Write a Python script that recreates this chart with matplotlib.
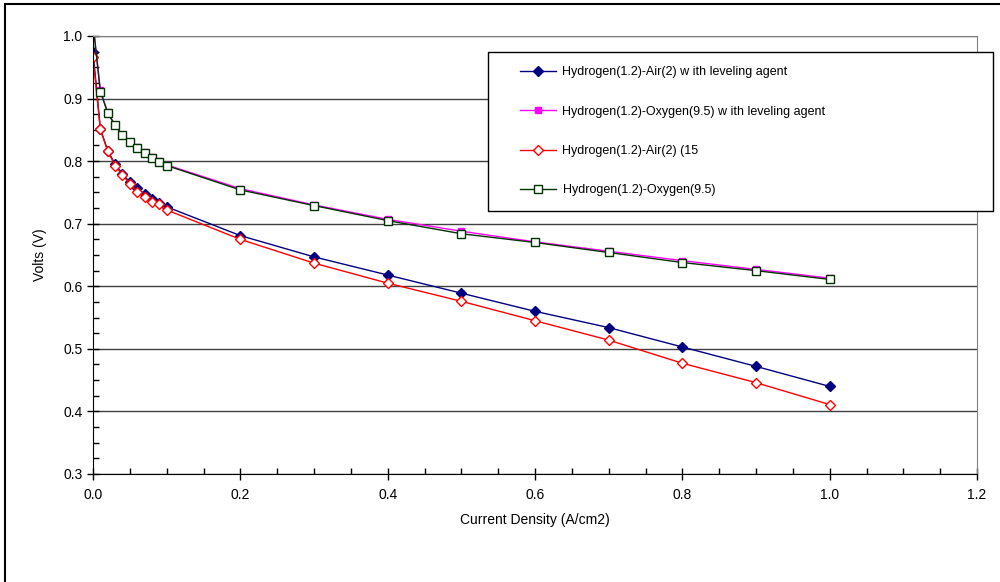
import matplotlib.pyplot as plt
from matplotlib.patches import Rectangle
from matplotlib.ticker import MultipleLocator, FormatStrFormatter

plt.rcParams['font.family'] = ['Liberation Sans', 'DejaVu Sans']

# current density (A/cm2)
current = [0.0, 0.01, 0.02, 0.03, 0.04, 0.05, 0.06, 0.07, 0.08, 0.09, 0.1,
           0.2, 0.3, 0.4, 0.5, 0.6, 0.7, 0.8, 0.9, 1.0]

air_leveling = [0.975, 0.851, 0.817, 0.795, 0.780, 0.766, 0.757, 0.747, 0.740, 0.733, 0.727,
                0.681, 0.647, 0.618, 0.589, 0.560, 0.534, 0.503, 0.472, 0.440]
oxy_leveling = [1.02, 0.913, 0.878, 0.858, 0.842, 0.831, 0.822, 0.814, 0.806, 0.800, 0.794,
                0.756, 0.730, 0.707, 0.688, 0.671, 0.656, 0.641, 0.627, 0.613]
air_plain = [0.967, 0.851, 0.816, 0.793, 0.778, 0.764, 0.751, 0.743, 0.735, 0.731, 0.722,
             0.675, 0.637, 0.605, 0.576, 0.545, 0.514, 0.477, 0.446, 0.411]
oxy_plain = [1.02, 0.911, 0.877, 0.857, 0.841, 0.830, 0.821, 0.813, 0.805, 0.799, 0.793,
             0.754, 0.729, 0.705, 0.684, 0.670, 0.654, 0.638, 0.625, 0.611]

labels = ['Hydrogen(1.2)-Air(2) w ith leveling agent',
          'Hydrogen(1.2)-Oxygen(9.5) w ith leveling agent',
          'Hydrogen(1.2)-Air(2) (15',
          'Hydrogen(1.2)-Oxygen(9.5)']

W, H = 1000, 582
fig = plt.figure(figsize=(10, 5.82), dpi=100)
ax = fig.add_axes([93 / W, 1 - 474 / H, (977 - 93) / W, (474 - 36) / H])

ax.plot(current, air_leveling, color='#000080', lw=1, marker='D', ms=5,
        mfc='#000080', mec='#000080', label=labels[0])
ax.plot(current, oxy_leveling, color='#FF00FF', lw=1, marker='s', ms=5,
        mfc='#FF00FF', mec='#FF00FF', label=labels[1])
ax.plot(current, air_plain, color='#FF0000', lw=1, marker='D', ms=5,
        mfc='white', mec='#FF0000', label=labels[2])
ax.plot(current, oxy_plain, color='#003300', lw=1, marker='s', ms=6,
        mfc='white', mec='#003300', label=labels[3])

ax.set_xlim(0, 1.2)
ax.set_ylim(0.3, 1.0)
ax.xaxis.set_major_locator(MultipleLocator(0.2))
ax.xaxis.set_minor_locator(MultipleLocator(0.05))
ax.yaxis.set_major_locator(MultipleLocator(0.1))
ax.yaxis.set_minor_locator(MultipleLocator(0.025))
ax.xaxis.set_major_formatter(FormatStrFormatter('%.1f'))
ax.yaxis.set_major_formatter(FormatStrFormatter('%.1f'))
ax.tick_params(which='major', direction='inout', length=8, width=1, labelsize=10)
ax.tick_params(which='minor', direction='in', length=4, width=1)
ax.tick_params(axis='x', which='major', pad=6)

ax.grid(axis='y', which='major', color='#404040', lw=1)
ax.set_axisbelow(True)
for side in ['top', 'right']:
    ax.spines[side].set_color('#808080')

ax.set_xlabel('Current Density (A/cm2)', fontsize=10, labelpad=8)
ax.set_ylabel('Volts (V)', fontsize=10, labelpad=12)

# legend box and entries
fig.patches.append(Rectangle((488 / W, 1 - 211 / H), (993 - 488) / W, (211 - 52) / H,
                             transform=fig.transFigure, fill=True, facecolor='white',
                             edgecolor='black', lw=1, zorder=5))
leg = fig.legend(loc='upper left', bbox_to_anchor=(520 / W, 1 - 66 / H),
                 bbox_transform=fig.transFigure, frameon=False, fontsize=9,
                 borderpad=0, borderaxespad=0, labelspacing=2.2,
                 handlelength=2.9, handletextpad=0.5)
leg.set_zorder(6)

# outer chart border
fig.patches.append(Rectangle((5 / W, -0.01), 1.0, 1 - 4 / H + 0.01,
                             transform=fig.transFigure, fill=False,
                             edgecolor='black', lw=1.5))

fig.savefig('out.png', dpi=100)
